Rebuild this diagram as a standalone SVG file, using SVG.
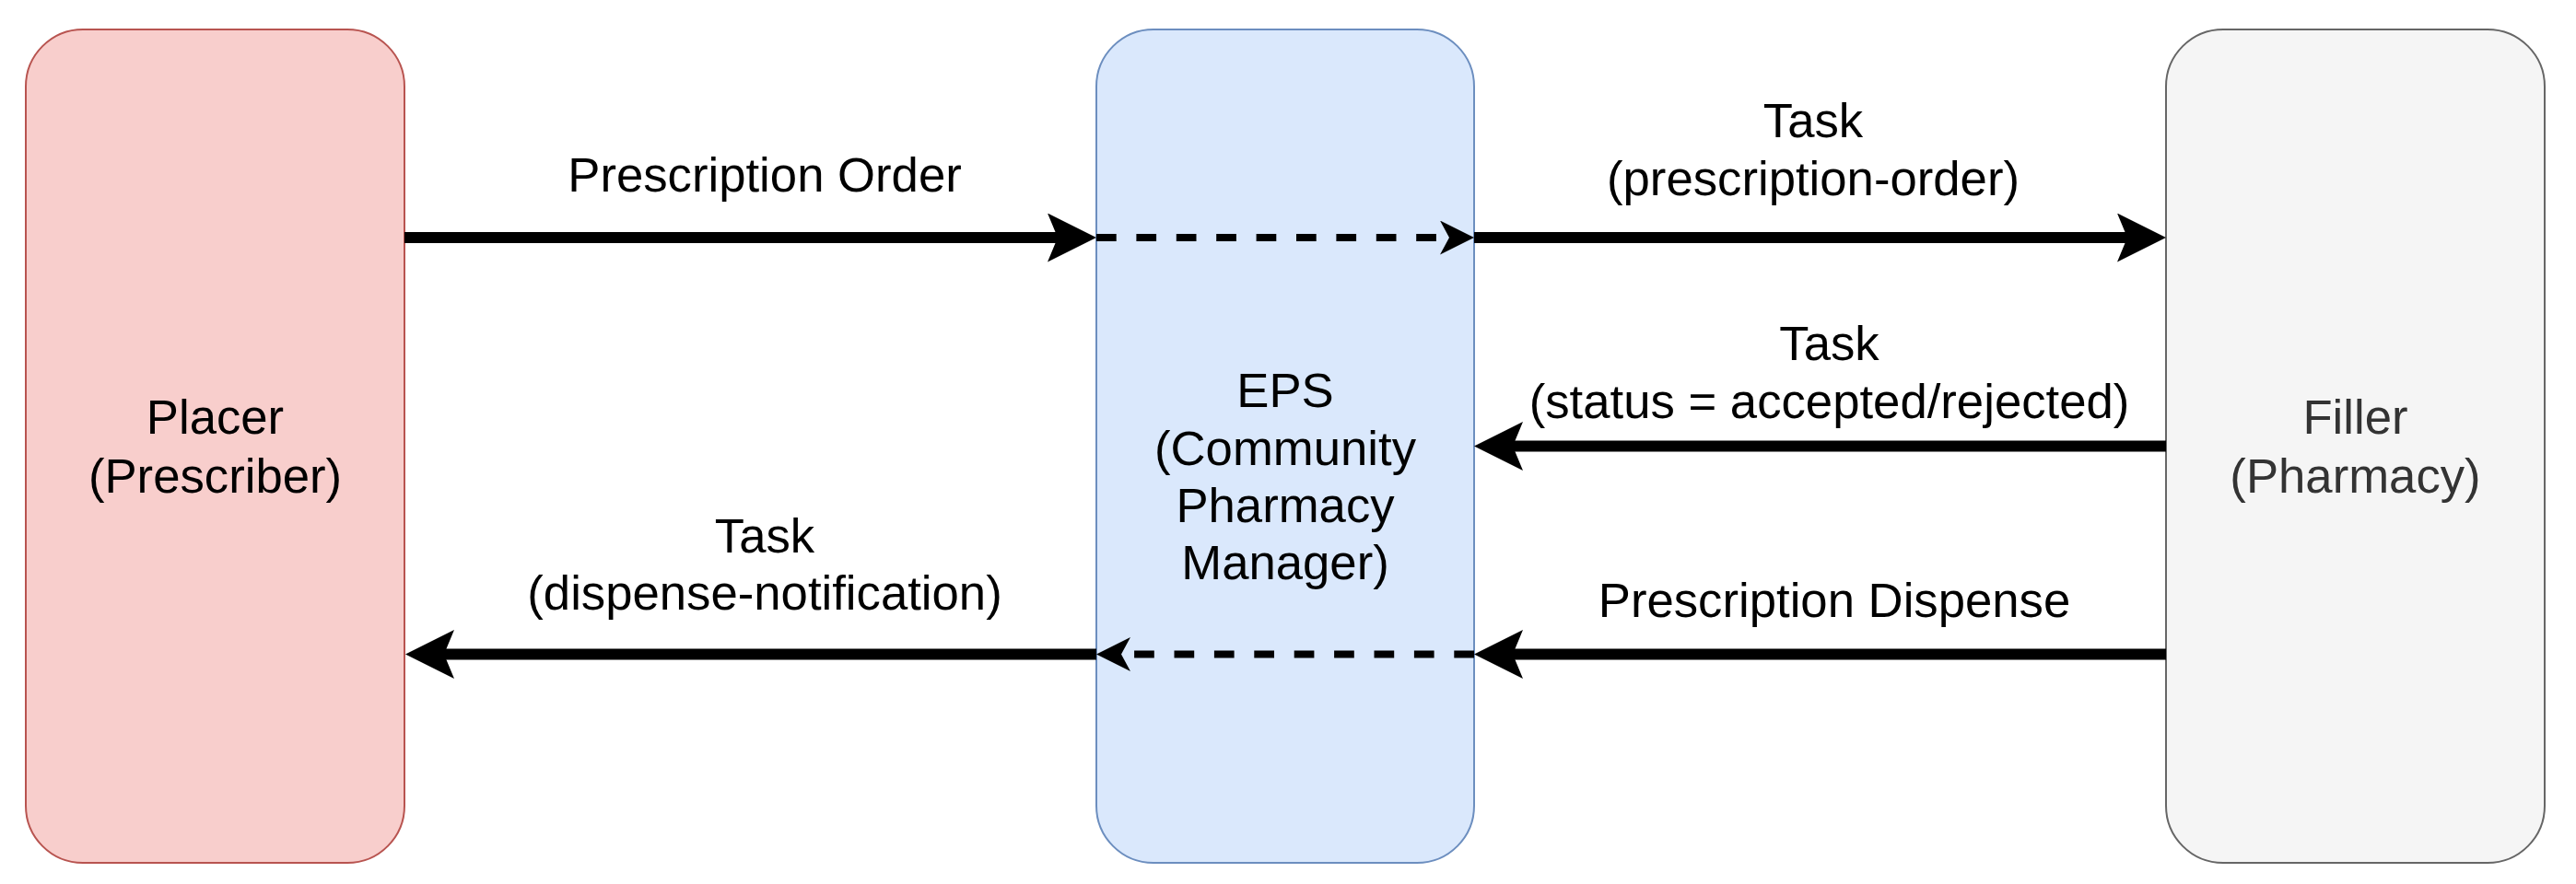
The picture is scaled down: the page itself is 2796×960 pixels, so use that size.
<svg xmlns="http://www.w3.org/2000/svg" width="2796" height="960" viewBox="0 0 2796 960">
  <style>
    text { font-family: "Liberation Sans", Arial, Helvetica, sans-serif; font-size: 52.7px; text-anchor: middle; fill: #000000; }
    .box { stroke-width: 2; }
    .conn { fill: none; stroke: #000000; }
    .solid { stroke-width: 12; }
    .dash { stroke-width: 8; stroke-dasharray: 21.7 21.7; }
  </style>
  <defs>
    <marker id="arrowBig" markerUnits="userSpaceOnUse" viewBox="0 0 53 53" markerWidth="53" markerHeight="53" refX="11" refY="26.5" orient="auto">
      <path d="M0,0 L53,26.5 L0,53 L11,26.5 Z" fill="#000000"/>
    </marker>
    <marker id="arrowSmall" markerUnits="userSpaceOnUse" viewBox="0 0 37 37" markerWidth="37" markerHeight="37" refX="10" refY="18.5" orient="auto">
      <path d="M0,0 L37,18.5 L0,37 L10,18.5 Z" fill="#000000"/>
    </marker>
  </defs>
  <rect width="2796" height="960" fill="#ffffff"/>

  <g id="placer">
    <rect class="box" x="28" y="32" width="411" height="905" rx="62" ry="62" fill="#f8cecc" stroke="#b85450"/>
    <text x="233.5" y="470.7">Placer</text>
    <text x="233.5" y="535">(Prescriber)</text>
  </g>

  <g id="eps">
    <rect class="box" x="1190" y="32" width="410" height="905" rx="62" ry="62" fill="#dae8fc" stroke="#6c8ebf"/>
    <text x="1395" y="441.7">EPS</text>
    <text x="1395" y="505">(Community</text>
    <text x="1395" y="567.3">Pharmacy</text>
    <text x="1395" y="629.3">Manager)</text>
  </g>

  <g id="filler">
    <rect class="box" x="2351" y="32" width="411" height="905" rx="62" ry="62" fill="#f5f5f5" stroke="#666666"/>
    <text x="2556.5" y="470.7" style="fill:#333333">Filler</text>
    <text x="2556.5" y="535" style="fill:#333333">(Pharmacy)</text>
  </g>

  <g id="connectors">
    <path class="conn solid" d="M439,258 L1148,258" marker-end="url(#arrowBig)"/>
    <path class="conn dash" d="M1190,258 L1573,258" marker-end="url(#arrowSmall)"/>
    <path class="conn solid" d="M1600,258 L2309,258" marker-end="url(#arrowBig)"/>
    <path class="conn solid" d="M2351,484.5 L1642,484.5" marker-end="url(#arrowBig)"/>
    <path class="conn solid" d="M2351,710.5 L1642,710.5" marker-end="url(#arrowBig)"/>
    <path class="conn dash" d="M1600,710.5 L1217,710.5" marker-end="url(#arrowSmall)"/>
    <path class="conn solid" d="M1190,710.5 L482,710.5" marker-end="url(#arrowBig)"/>
  </g>

  <g id="labels">
    <text x="830" y="208">Prescription Order</text>
    <text x="1968" y="149">Task</text>
    <text x="1968" y="211.5">(prescription-order)</text>
    <text x="1985.5" y="391">Task</text>
    <text x="1985.5" y="453.5">(status = accepted/rejected)</text>
    <text x="1991" y="669.5">Prescription Dispense</text>
    <text x="830" y="599.5">Task</text>
    <text x="830" y="661.5">(dispense-notification)</text>
  </g>
</svg>
